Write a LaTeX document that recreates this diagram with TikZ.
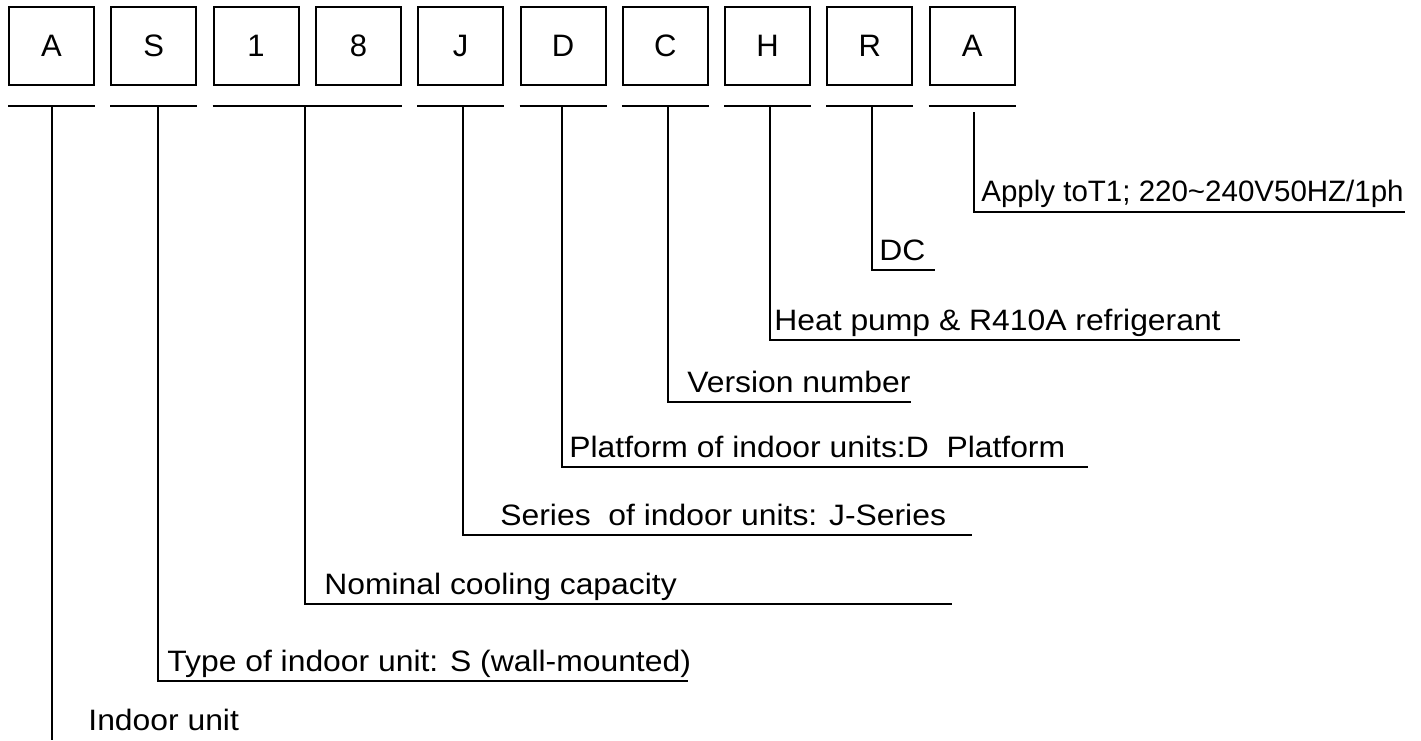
\documentclass[tikz,border=0pt]{standalone}
\usepackage{fontspec}
\setmainfont{Liberation Sans}
\newfontfamily\widesans{Liberation Sans}[FakeStretch=1.08]
\usepackage{tikz}
\usetikzlibrary{calc,positioning}

\tikzset{
  letterbox/.style={draw, line width=1pt, minimum width=42.5pt, minimum height=39pt,
    inner sep=0pt, font=\fontsize{15.5}{18}\selectfont},
  bar/.style={line width=1pt},
  stem/.style={line width=0.9pt},
  lbl/.style={anchor=base west, inner sep=0pt, font=\widesans\fontsize{14.75}{17}\selectfont}
}

\begin{document}
\begin{tikzpicture}[x=0.5pt,y=-0.5pt]
		% Frame
		\useasboundingbox (0,0) rectangle (1421,740);

		% Code letters
		\foreach \ch [count=\i from 0] in {A,S,1,8,J,D,C,H,R,A}
			\node[letterbox] (b\i) at ({51.5+102.3*\i},46) {\ch};

		% Underlines
		\foreach \i in {0,1,4,5,6,7,8,9}
			\draw[bar] ([yshift=-10pt]b\i.south west) -- ([yshift=-10pt]b\i.south east);
		\draw[bar] ([yshift=-10pt]b2.south west) -- ([yshift=-10pt]b3.south east);

		% Stem tops
		\coordinate (sA) at (52,105);
		\coordinate (sS) at (158,105);
		\coordinate (sN) at (305,105);
		\coordinate (sJ) at (463,105);
		\coordinate (sD) at (562,105);
		\coordinate (sC) at (668,105);
		\coordinate (sH) at (770,105);
		\coordinate (sR) at (872,105);
		\coordinate (sV) at (974,112);

		% Line ends
		\coordinate (eA) at (52,740);
		\coordinate (eS) at (688,681);
		\coordinate (eN) at (952,604);
		\coordinate (eJ) at (972,535);
		\coordinate (eD) at (1088,467);
		\coordinate (eC) at (911,402);
		\coordinate (eH) at (1240,340);
		\coordinate (eR) at (935,270);
		\coordinate (eV) at (1405,212);

		% Leaders
		\draw[stem] (sA) -- (eA);
		\foreach \k in {S,N,J,D,C,H,R,V}
			\draw[stem] (s\k) |- (e\k);
		\foreach \k in {S,N,J,D,C,H,R,V}
			\draw[bar] (s\k |- e\k) -- (e\k);

		% Labels
		\node[lbl, font=\fontsize{14.75}{17}\selectfont] (tV) at (981,201) {Apply toT1; 220\textasciitilde240V50HZ/1ph};
		\node[lbl] (tR) at (879,260) {DC};
		\node[lbl] (tH) at (774,330) {Heat pump \& R410A refrigerant};
		\node[lbl] (tC) at (687,392) {Version number};
		\node[lbl] (tD) at (569,457) {Platform of indoor units:D\ \ Platform};
		\node[lbl] (tJ) at (500,525) {Series\ \ of indoor units: J-Series};
		\node[lbl] (tN) at (324,594) {Nominal cooling capacity};
		\node[lbl] (tS) at (167,671) {Type of indoor unit: S (wall-mounted)};
		\node[lbl] (tA) at (88,730) {Indoor unit};
	\end{tikzpicture}
\end{document}
